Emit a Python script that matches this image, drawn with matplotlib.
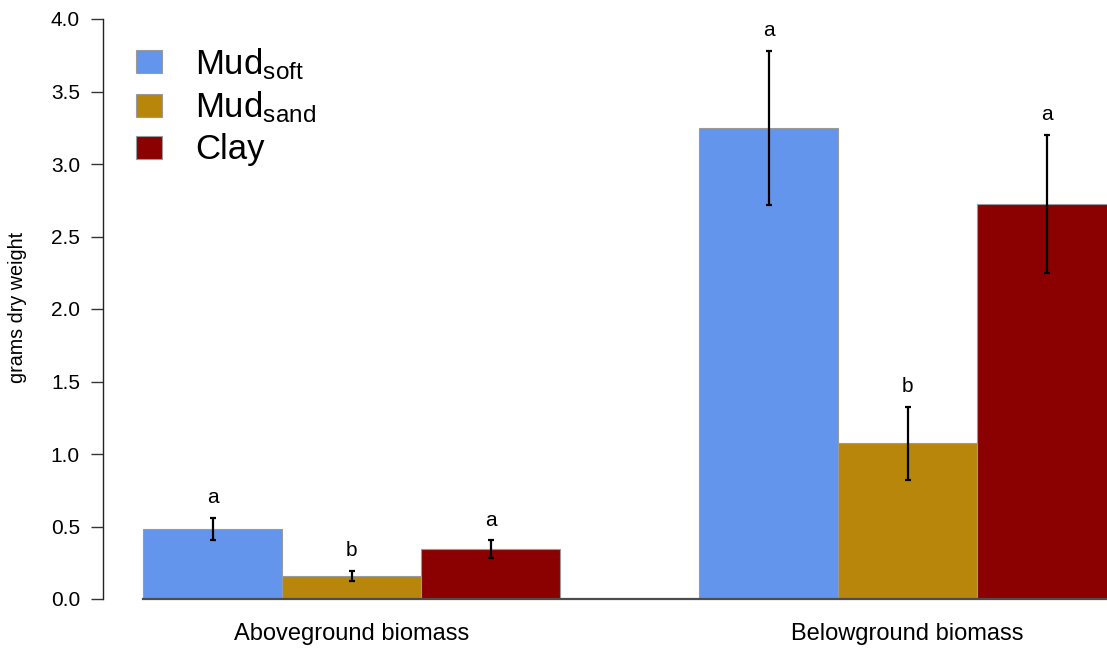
import numpy as np
import matplotlib
matplotlib.use("Agg")
import matplotlib.pyplot as plt
from matplotlib.patches import Patch

plt.rcParams["font.family"] = ["Liberation Sans", "DejaVu Sans"]
plt.rcParams["mathtext.fontset"] = "custom"
plt.rcParams["mathtext.rm"] = "Liberation Sans"
plt.rcParams["mathtext.it"] = "Liberation Sans:italic"

# ---------------- data ----------------
groups = ["Aboveground biomass", "Belowground biomass"]
sediments = [r"Mud$_{\mathrm{soft}}$", r"Mud$_{\mathrm{sand}}$", "Clay"]
colors = ["#6495ED", "#B8860B", "#8B0000"]

# rows = sediment, cols = group
means = np.array([[0.483, 3.25],
                  [0.159, 1.074],
                  [0.345, 2.725]])
errs = np.array([[0.076, 0.53],
                 [0.035, 0.25],
                 [0.059, 0.475]])
letters = [["a", "a"],
           ["b", "b"],
           ["a", "a"]]

# ---------------- layout ----------------
W, H = 1107, 650
fig = plt.figure(figsize=(W / 100, H / 100), dpi=100)
ax = fig.add_axes([103 / W, 51 / H, 1004 / W, 580 / H])

n_sed = len(sediments)
group_start = np.arange(len(groups)) * (n_sed + 1)

for i in range(n_sed):
    x = group_start + i + 0.5
    ax.bar(x, means[i], width=1.0, color=colors[i], edgecolor="#9a9a9a",
           linewidth=0.8, zorder=2)
    ax.errorbar(x, means[i], yerr=errs[i], fmt="none", ecolor="black",
                elinewidth=1.6, capsize=1.9, capthick=1.6, zorder=3)
    for xi, top, lab in zip(x, means[i] + errs[i], letters[i]):
        ax.annotate(lab, (xi, top), xytext=(0, 10.5), textcoords="offset points",
                    ha="center", va="baseline", fontsize=15)

xmax = 964 / 139
ax.set_xlim(-40 / 139, xmax)
ax.set_ylim(0, 4.0)
ax.plot([0, xmax], [0, 0], color="#4d4d4d", lw=1.6, zorder=4, clip_on=False)

for s in ["top", "right", "bottom"]:
    ax.spines[s].set_visible(False)
ax.spines["left"].set_color("#222222")
ax.spines["left"].set_linewidth(1.0)

ax.set_yticks(np.arange(0, 4.01, 0.5))
ax.set_yticklabels([f"{v:.1f}" for v in np.arange(0, 4.01, 0.5)])
ax.tick_params(axis="y", length=8.6, width=1.0, color="#333333", pad=8.0,
               labelsize=15)
ax.set_xticks(group_start + n_sed / 2)
ax.set_xticklabels(groups, fontsize=17)
ax.tick_params(axis="x", length=0, pad=17)

ax.set_ylabel("grams dry weight", fontsize=14.2)
ax.yaxis.set_label_coords(-0.076, 0.502)

handles = [Patch(facecolor=c, edgecolor="#9a9a9a", linewidth=0.8) for c in colors]
fig.legend(handles, sediments, loc="upper left",
           bbox_to_anchor=(136 / W, 1 - 46 / H), frameon=False, fontsize=25,
           borderpad=0, borderaxespad=0, handlelength=0.75, handleheight=0.63,
           handletextpad=0.95, labelspacing=0.23)

fig.savefig("out.png", dpi=100)
